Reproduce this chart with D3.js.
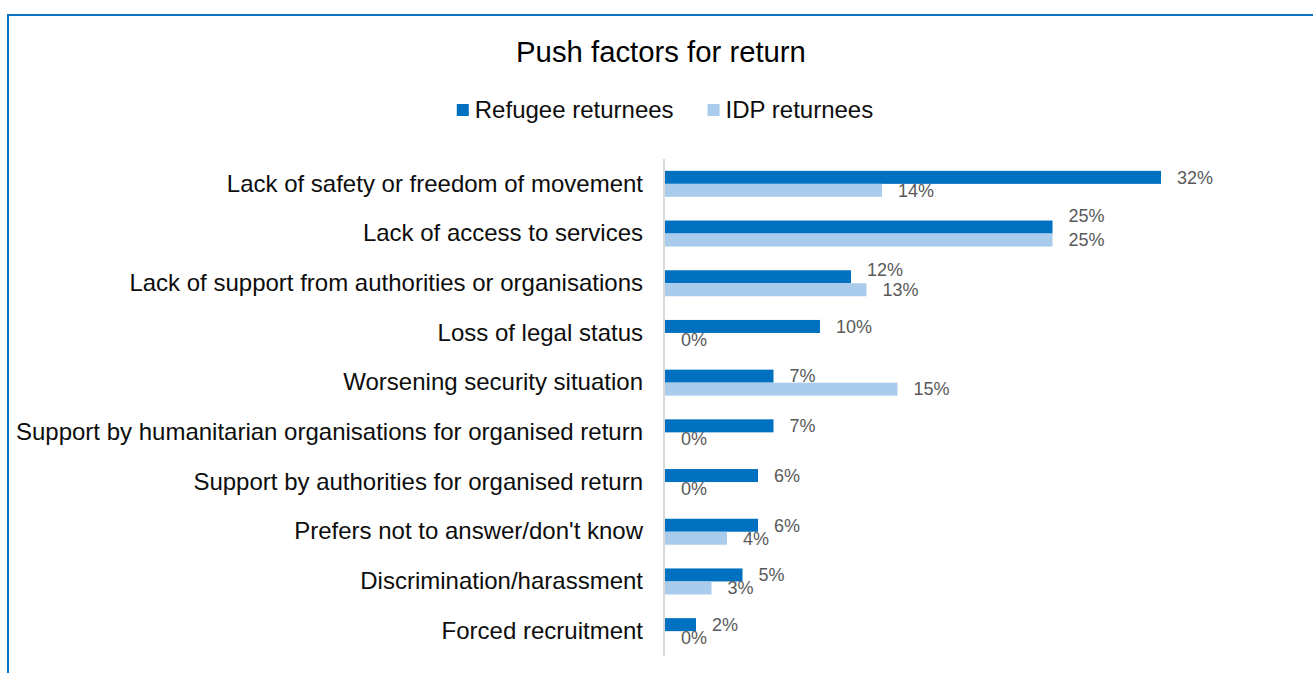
<!DOCTYPE html>
<html>
<head>
<meta charset="utf-8">
<script src="https://cdn.jsdelivr.net/npm/d3@7"></script>
<style>
  html, body { margin: 0; padding: 0; background: #fff; }
  svg { display: block; font-family: "Liberation Sans", Arial, sans-serif; }
</style>
</head>
<body>
<div id="chart"></div>
<script>
const [WIDTH, HEIGHT] = [1313, 673]

const title = 'Push factors for return'
const seriesNames = ['Refugee returnees', 'IDP returnees']
const categories = [
    'Lack of safety or freedom of movement',
    'Lack of access to services',
    'Lack of support from authorities or organisations',
    'Loss of legal status',
    'Worsening security situation',
    'Support by humanitarian organisations for organised return',
    'Support by authorities for organised return',
    "Prefers not to answer/don't know",
    'Discrimination/harassment',
    'Forced recruitment',
]
const refugeeValues = [32, 25, 12, 10, 7, 7, 6, 6, 5, 2]
const idpValues = [14, 25, 13, 0, 15, 0, 0, 4, 3, 0]

const COLORS = ['#0070c0', '#a9cbec']
const PLOT = { left: 665, top: 159, bottom: 656, pxPerPct: 15.5 }

const data = categories.map((c, i) => ({
    category: c,
    values: [refugeeValues[i], idpValues[i]],
}))

const svg = d3.select('#chart').append('svg')
    .attr('width', WIDTH)
    .attr('height', HEIGHT)
    .attr('viewBox', [0, 0, WIDTH, HEIGHT])

// outer frame (cut off at right/bottom like the screenshot)
svg.append('rect')
    .attr('x', 8).attr('y', 15)
    .attr('width', WIDTH + 20).attr('height', HEIGHT + 20)
    .attr('fill', 'none')
    .attr('stroke', '#0b73c2')
    .attr('stroke-width', 2)

svg.append('text')
    .attr('x', 661).attr('y', 62)
    .attr('text-anchor', 'middle')
    .attr('font-size', 29.3)
    .attr('fill', '#000')
    .text(title)

// legend, centred as a whole
const legend = svg.append('g')
const items = legend.selectAll('g').data(seriesNames).join('g')
items.append('rect')
    .attr('width', 12).attr('height', 12)
    .attr('y', 104)
    .attr('fill', (d, i) => COLORS[i])
items.append('text')
    .attr('x', 18).attr('y', 118)
    .attr('font-size', 24)
    .attr('fill', '#0d0d0d')
    .text(d => d)
let lx = 0
items.each(function () {
    const w = d3.select(this).select('text').node().getComputedTextLength()
    d3.select(this).attr('transform', `translate(${lx},0)`)
    lx += 18 + w + 34
})
lx -= 34
legend.attr('transform', `translate(${665 - lx / 2},0)`)

const x = d3.scaleLinear([0, 35], [PLOT.left, PLOT.left + 35 * PLOT.pxPerPct])
const y = d3.scaleBand(categories, [PLOT.top, PLOT.bottom])
const ySub = d3.scaleBand([0, 1], [y.bandwidth() / 2 - 13, y.bandwidth() / 2 + 13])

const yAxis = d3.axisLeft(y).tickSize(0).tickPadding(21)
svg.append('g')
    .attr('transform', `translate(${PLOT.left - 1},0)`)
    .call(yAxis)
    .call(g => g.select('.domain').remove())
    .call(g => g.selectAll('text')
        .attr('font-size', 24)
        .attr('font-family', '"Liberation Sans", Arial, sans-serif')
        .attr('fill', '#0d0d0d'))

svg.append('line')
    .attr('x1', PLOT.left - 1).attr('x2', PLOT.left - 1)
    .attr('y1', PLOT.top).attr('y2', PLOT.bottom)
    .attr('stroke', '#d9d9d9')
    .attr('stroke-width', 2)

const rows = svg.append('g').selectAll('g')
    .data(data)
    .join('g')
    .attr('transform', d => `translate(0,${y(d.category)})`)

const cells = rows.selectAll('g')
    .data(d => d.values.map((v, i) => ({ v, i })))
    .join('g')

cells.append('rect')
    .attr('x', x(0))
    .attr('y', d => ySub(d.i))
    .attr('width', d => x(d.v) - x(0))
    .attr('height', ySub.bandwidth())
    .attr('fill', d => COLORS[d.i])

const labels = cells.append('text')
    .attr('x', d => x(d.v) + 16)
    .attr('y', d => ySub(d.i) + ySub.bandwidth() / 2)
    .attr('dy', '0.35em')
    .attr('font-size', 18)
    .attr('fill', '#595959')
    .text(d => d.v + '%')

// nudge the refugee label up when it sits on top of the IDP label
rows.each(function () {
    const t = d3.select(this).selectAll('text').nodes()
    const a = t[0].getBBox(), b = t[1].getBBox()
    const overlap = Math.min(a.x + a.width, b.x + b.width) - Math.max(a.x, b.x)
    if (overlap > 0) {
        const shift = 10 * Math.min(1, overlap / a.width) + 1
        d3.select(t[0]).attr('y', +d3.select(t[0]).attr('y') - shift)
    }
})
</script>
</body>
</html>
